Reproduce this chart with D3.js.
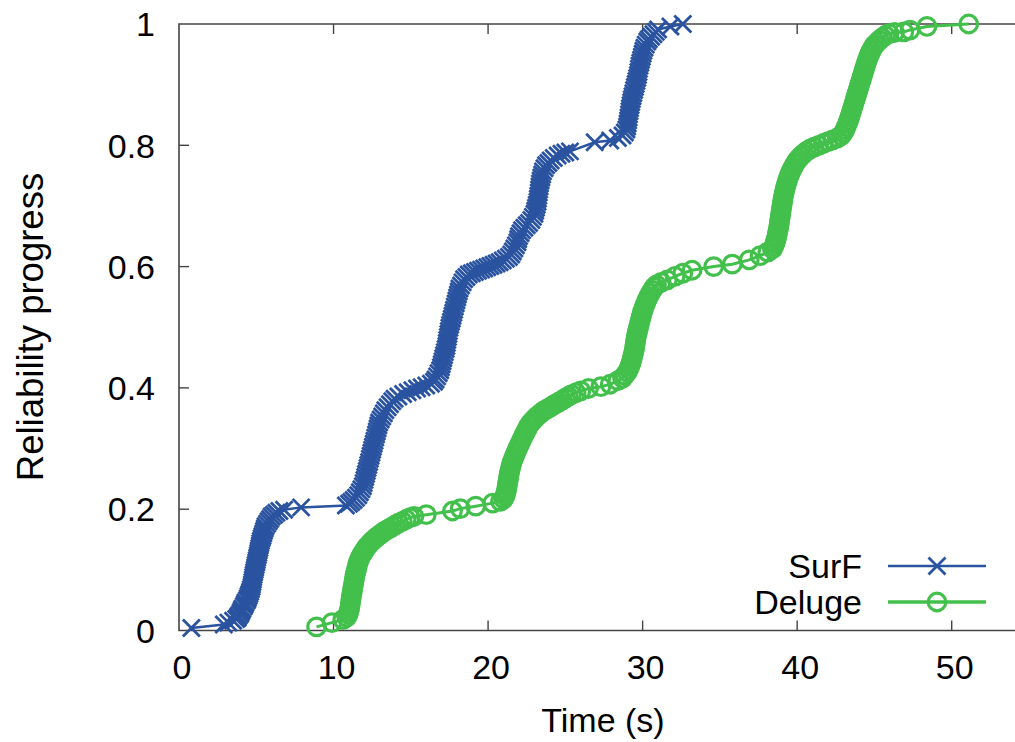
<!DOCTYPE html>
<html>
<head>
<meta charset="utf-8">
<script src="https://cdn.jsdelivr.net/npm/d3@7"></script>
<style>
  html, body { margin: 0; padding: 0; background: #fff; }
  svg { display: block; }
  text { font-family: "Liberation Sans", Arial, Helvetica, sans-serif; fill: #000; }
</style>
</head>
<body>
<svg id="chart" width="1015" height="742"></svg>
<script>
// Axis ticks
const xTicks = [0, 10, 20, 30, 40, 50];
const yTicks = [0, 0.2, 0.4, 0.6, 0.8, 1];
const yTickLabels = ["0", "0.2", "0.4", "0.6", "0.8", "1"];

// Series names
const seriesNames = ["SurF", "Deluge"];

// SurF: [time (s), reliability progress]
const surfPoints = [
  [0.8, 0.004], [2.9, 0.010], [3.2, 0.013], [3.5, 0.016], [3.7, 0.019],
  [3.8, 0.021], [3.85, 0.024], [3.95, 0.027], [4.0, 0.030], [4.05, 0.033], [4.1, 0.036],
  [4.2, 0.040], [4.25, 0.043], [4.3, 0.046], [4.4, 0.050], [4.45, 0.053], [4.5, 0.057],
  [4.55, 0.060], [4.6, 0.064], [4.65, 0.068], [4.7, 0.072], [4.72, 0.076], [4.75, 0.080],
  [4.78, 0.084], [4.8, 0.088], [4.83, 0.092], [4.86, 0.096], [4.9, 0.100], [4.93, 0.104],
  [4.96, 0.108], [5.0, 0.112], [5.03, 0.116], [5.06, 0.120], [5.1, 0.124], [5.13, 0.128],
  [5.16, 0.132], [5.2, 0.136], [5.23, 0.140], [5.26, 0.144], [5.3, 0.148], [5.35, 0.152],
  [5.4, 0.156], [5.45, 0.160], [5.5, 0.164], [5.55, 0.168], [5.6, 0.172], [5.7, 0.176],
  [5.8, 0.180], [5.9, 0.184], [6.0, 0.188], [6.15, 0.191], [6.3, 0.194], [6.5, 0.197],
  [6.8, 0.199], [7.9, 0.203], [10.8, 0.206],
  [11.0, 0.209], [11.15, 0.212], [11.3, 0.215], [11.45, 0.219], [11.6, 0.223], [11.7, 0.228],
  [11.8, 0.233], [11.9, 0.238], [11.95, 0.243], [12.0, 0.248], [12.05, 0.253], [12.1, 0.258],
  [12.15, 0.263], [12.2, 0.268], [12.25, 0.273], [12.3, 0.278], [12.35, 0.283], [12.4, 0.288],
  [12.45, 0.293], [12.5, 0.298], [12.55, 0.303], [12.6, 0.308], [12.65, 0.313], [12.7, 0.318],
  [12.75, 0.323], [12.8, 0.328], [12.85, 0.333], [12.9, 0.338], [12.95, 0.343], [13.05, 0.348],
  [13.15, 0.353], [13.25, 0.358], [13.35, 0.363], [13.5, 0.368], [13.65, 0.373], [13.8, 0.378],
  [13.95, 0.382],
  [14.2, 0.386], [14.5, 0.390], [14.8, 0.393], [15.1, 0.396], [15.4, 0.399], [15.7, 0.401],
  [16.0, 0.404], [16.3, 0.407], [16.5, 0.410],
  [16.6, 0.414], [16.7, 0.419], [16.8, 0.424], [16.9, 0.429], [16.95, 0.434], [17.0, 0.439],
  [17.05, 0.444], [17.1, 0.449], [17.15, 0.454], [17.2, 0.459], [17.25, 0.464], [17.3, 0.469],
  [17.33, 0.474], [17.36, 0.479], [17.4, 0.484], [17.43, 0.489], [17.46, 0.494], [17.5, 0.499],
  [17.55, 0.504], [17.6, 0.509], [17.65, 0.514], [17.7, 0.519], [17.75, 0.524], [17.8, 0.529],
  [17.85, 0.534], [17.9, 0.539], [17.95, 0.544], [18.0, 0.549], [18.05, 0.554], [18.1, 0.559],
  [18.15, 0.564], [18.25, 0.569], [18.35, 0.574], [18.45, 0.579], [18.6, 0.583], [18.75, 0.587],
  [18.95, 0.589], [19.15, 0.591], [19.35, 0.593], [19.55, 0.595], [19.75, 0.597], [19.95, 0.599],
  [20.15, 0.601], [20.35, 0.603], [20.55, 0.605], [20.75, 0.607], [20.95, 0.610], [21.15, 0.613],
  [21.35, 0.616],
  [21.5, 0.620], [21.6, 0.625], [21.7, 0.630], [21.8, 0.635], [21.9, 0.640], [21.95, 0.645],
  [22.0, 0.650], [22.1, 0.655], [22.2, 0.660], [22.35, 0.664], [22.5, 0.668], [22.65, 0.672],
  [22.8, 0.677], [22.9, 0.682], [23.0, 0.687], [23.05, 0.692], [23.1, 0.697], [23.15, 0.702],
  [23.2, 0.707], [23.22, 0.712], [23.25, 0.717], [23.28, 0.722], [23.3, 0.727], [23.33, 0.732],
  [23.36, 0.737], [23.4, 0.742], [23.45, 0.747], [23.5, 0.752], [23.55, 0.757], [23.65, 0.762],
  [23.75, 0.767], [23.9, 0.771], [24.05, 0.775], [24.25, 0.779], [24.5, 0.783], [24.75, 0.786],
  [25.0, 0.788], [25.3, 0.790],
  [26.9, 0.805], [27.9, 0.808], [28.4, 0.812], [28.7, 0.816],
  [28.85, 0.821], [28.95, 0.826], [29.0, 0.831], [29.03, 0.836], [29.06, 0.841], [29.09, 0.846],
  [29.12, 0.851], [29.15, 0.856], [29.18, 0.861], [29.22, 0.866], [29.26, 0.871], [29.3, 0.876],
  [29.35, 0.881], [29.4, 0.886], [29.45, 0.891], [29.5, 0.896], [29.55, 0.901], [29.6, 0.906],
  [29.65, 0.911], [29.7, 0.916], [29.73, 0.921], [29.76, 0.926], [29.8, 0.931], [29.85, 0.936],
  [29.9, 0.941], [29.95, 0.946], [30.0, 0.951], [30.05, 0.956], [30.12, 0.961], [30.2, 0.966],
  [30.3, 0.971], [30.4, 0.975], [30.55, 0.979], [30.7, 0.983], [30.85, 0.987], [31.0, 0.991],
  [31.8, 0.996], [32.6, 1.0]
];

// Deluge: [time (s), reliability progress]
const delugePoints = [
  [8.9, 0.006], [9.9, 0.013], [10.6, 0.018], [10.85, 0.022],
  [10.95, 0.027], [11.0, 0.032], [11.05, 0.037], [11.08, 0.042], [11.1, 0.047], [11.13, 0.052],
  [11.16, 0.057], [11.2, 0.062], [11.23, 0.067], [11.26, 0.072], [11.3, 0.077], [11.33, 0.082],
  [11.36, 0.087], [11.4, 0.092], [11.45, 0.097], [11.5, 0.102], [11.55, 0.107], [11.6, 0.112],
  [11.68, 0.117],
  [11.76, 0.122], [11.85, 0.126], [11.95, 0.130], [12.05, 0.134], [12.15, 0.138], [12.3, 0.142],
  [12.45, 0.146], [12.6, 0.150], [12.75, 0.153], [12.9, 0.156], [13.05, 0.159], [13.2, 0.162],
  [13.4, 0.165], [13.6, 0.168], [13.8, 0.171], [14.0, 0.174], [14.2, 0.177], [14.45, 0.180],
  [14.7, 0.183], [14.95, 0.186], [15.2, 0.188], [16.0, 0.191], [17.7, 0.197], [18.2, 0.201],
  [19.2, 0.205], [20.3, 0.210], [20.8, 0.213],
  [21.0, 0.217], [21.1, 0.222], [21.15, 0.227], [21.2, 0.232], [21.23, 0.237], [21.26, 0.242],
  [21.3, 0.247], [21.33, 0.252], [21.36, 0.257], [21.4, 0.262], [21.45, 0.267], [21.5, 0.272],
  [21.55, 0.277], [21.62, 0.282], [21.7, 0.287], [21.78, 0.292], [21.86, 0.297], [21.95, 0.302],
  [22.04, 0.307], [22.13, 0.312], [22.22, 0.317], [22.32, 0.322], [22.42, 0.327], [22.52, 0.332],
  [22.62, 0.337], [22.75, 0.342],
  [22.9, 0.346], [23.05, 0.350], [23.2, 0.354], [23.4, 0.358], [23.6, 0.362], [23.8, 0.365],
  [24.0, 0.368], [24.2, 0.371], [24.4, 0.374], [24.6, 0.377], [24.8, 0.380], [25.0, 0.383],
  [25.2, 0.386], [25.4, 0.389], [25.7, 0.392], [26.0, 0.395], [26.5, 0.399], [27.3, 0.402],
  [27.9, 0.406], [28.4, 0.412],
  [28.7, 0.416], [28.85, 0.421], [29.0, 0.426], [29.1, 0.431], [29.18, 0.436], [29.25, 0.441],
  [29.3, 0.446], [29.35, 0.451], [29.4, 0.456], [29.45, 0.461], [29.48, 0.466], [29.51, 0.471],
  [29.54, 0.476], [29.57, 0.481], [29.6, 0.486], [29.65, 0.491], [29.7, 0.496], [29.75, 0.501],
  [29.8, 0.506], [29.85, 0.511], [29.9, 0.516], [29.95, 0.521], [30.0, 0.526], [30.07, 0.531],
  [30.14, 0.536], [30.22, 0.541], [30.3, 0.546], [30.4, 0.551], [30.5, 0.556], [30.62, 0.561],
  [30.75, 0.566], [30.9, 0.570],
  [31.2, 0.574], [31.6, 0.578], [32.1, 0.584], [32.6, 0.589], [33.2, 0.594], [34.6, 0.600],
  [35.8, 0.604], [36.9, 0.611], [37.6, 0.618], [38.1, 0.624],
  [38.4, 0.629], [38.5, 0.634], [38.57, 0.639], [38.63, 0.644], [38.68, 0.649], [38.72, 0.654],
  [38.76, 0.659], [38.8, 0.664], [38.83, 0.669], [38.86, 0.674], [38.89, 0.679], [38.92, 0.684],
  [38.95, 0.689], [38.98, 0.694], [39.01, 0.699], [39.04, 0.704], [39.07, 0.709], [39.1, 0.714],
  [39.14, 0.719], [39.18, 0.724], [39.23, 0.729], [39.28, 0.734], [39.34, 0.739], [39.4, 0.744],
  [39.47, 0.749], [39.55, 0.754], [39.64, 0.759], [39.74, 0.764], [39.85, 0.769], [39.97, 0.774],
  [40.1, 0.778], [40.25, 0.782], [40.4, 0.786], [40.6, 0.790],
  [40.85, 0.794], [41.1, 0.797], [41.4, 0.800], [41.7, 0.803], [42.0, 0.806], [42.3, 0.809],
  [42.6, 0.812], [42.85, 0.816],
  [43.0, 0.821], [43.1, 0.826], [43.18, 0.831], [43.26, 0.836], [43.33, 0.841], [43.4, 0.846],
  [43.46, 0.851], [43.52, 0.856], [43.58, 0.861], [43.64, 0.866], [43.7, 0.871], [43.76, 0.876],
  [43.82, 0.881], [43.88, 0.886], [43.94, 0.891], [44.0, 0.896], [44.06, 0.901], [44.12, 0.906],
  [44.18, 0.911], [44.24, 0.916], [44.3, 0.921], [44.36, 0.926], [44.42, 0.931], [44.48, 0.936],
  [44.55, 0.941], [44.62, 0.946], [44.7, 0.951], [44.8, 0.956], [44.9, 0.961], [45.0, 0.965],
  [45.15, 0.969], [45.3, 0.973], [45.5, 0.977], [45.7, 0.981], [45.95, 0.984], [46.3, 0.986],
  [46.9, 0.987], [47.3, 0.990], [48.4, 0.996], [51.1, 1.0]
];

const BLUE = "#2a53a0";
const GREEN = "#43c04c";
const AXIS = "#444";
const FONT = 34;

const svg = d3.select("#chart");

// Plot frame: the right edge runs past the canvas
const plotLeft = 179, plotTop = 24, plotBottom = 630.5;
const pxPerSec = 15.454;
const x = d3.scaleLinear().domain([0, 55]).range([plotLeft, plotLeft + 55 * pxPerSec]);
const y = d3.scaleLinear().domain([0, 1]).range([plotBottom, plotTop]);

const frame = svg.append("g");
frame.append("path")
  .attr("d", `M${x(55)},${plotTop}H${plotLeft}V${plotBottom}H${x(55)}`)
  .attr("fill", "none").attr("stroke", AXIS).attr("stroke-width", 1.6);

// Inward ticks, bottom and mirrored on top
const tickLen = 10;
xTicks.forEach(t => {
  if (t === 0) return;
  frame.append("line").attr("x1", x(t)).attr("x2", x(t)).attr("y1", plotBottom).attr("y2", plotBottom - tickLen)
    .attr("stroke", AXIS).attr("stroke-width", 1.4);
  frame.append("line").attr("x1", x(t)).attr("x2", x(t)).attr("y1", plotTop).attr("y2", plotTop + tickLen)
    .attr("stroke", AXIS).attr("stroke-width", 1.4);
});
yTicks.forEach(v => {
  if (v === 0 || v === 1) return;
  frame.append("line").attr("x1", plotLeft).attr("x2", plotLeft + tickLen).attr("y1", y(v)).attr("y2", y(v))
    .attr("stroke", AXIS).attr("stroke-width", 1.4);
});

// Tick labels
svg.append("g").selectAll("text").data(xTicks).join("text")
  .attr("x", d => x(d) + 3).attr("y", 679)
  .attr("text-anchor", "middle").attr("font-size", FONT)
  .text(d => d);

svg.append("g").selectAll("text").data(yTicks).join("text")
  .attr("x", 155).attr("y", d => y(d)).attr("dy", "0.36em")
  .attr("text-anchor", "end").attr("font-size", FONT)
  .text((d, i) => yTickLabels[i]);

// Axis titles
svg.append("text")
  .attr("x", 603).attr("y", 732)
  .attr("text-anchor", "middle").attr("font-size", FONT)
  .text("Time (s)");

svg.append("text")
  .attr("transform", "translate(43,327) rotate(-90)")
  .attr("text-anchor", "middle").attr("font-size", 36.5)
  .text("Reliability progress");

// Markers
const crossPath = "M-8.5,-8.5L8.5,8.5M-8.5,8.5L8.5,-8.5";
const circleR = 8.8;

const line = d3.line().x(d => x(d[0])).y(d => y(d[1]));

// SurF series
const gSurf = svg.append("g");
gSurf.append("path").attr("d", line(surfPoints))
  .attr("fill", "none").attr("stroke", BLUE).attr("stroke-width", 2.5);
gSurf.selectAll("path.pt").data(surfPoints).join("path")
  .attr("class", "pt")
  .attr("transform", d => `translate(${x(d[0])},${y(d[1])})`)
  .attr("d", crossPath)
  .attr("fill", "none").attr("stroke", BLUE).attr("stroke-width", 2.8);

// Deluge series
const gDel = svg.append("g");
gDel.append("path").attr("d", line(delugePoints))
  .attr("fill", "none").attr("stroke", GREEN).attr("stroke-width", 3);
gDel.selectAll("circle").data(delugePoints).join("circle")
  .attr("cx", d => x(d[0])).attr("cy", d => y(d[1])).attr("r", circleR)
  .attr("fill", "none").attr("stroke", GREEN).attr("stroke-width", 3.2);

// Legend
const legend = svg.append("g");
const legendRows = [
  { name: seriesNames[0], color: BLUE, y: 566, width: 2.5, marker: "cross" },
  { name: seriesNames[1], color: GREEN, y: 602, width: 3.5, marker: "circle" }
];
legendRows.forEach(r => {
  legend.append("text").attr("x", 862).attr("y", r.y).attr("dy", "0.36em")
    .attr("text-anchor", "end").attr("font-size", FONT).text(r.name);
  legend.append("line").attr("x1", 888).attr("x2", 986).attr("y1", r.y).attr("y2", r.y)
    .attr("stroke", r.color).attr("stroke-width", r.width);
  if (r.marker === "cross") {
    legend.append("path").attr("transform", `translate(937,${r.y})`).attr("d", crossPath)
      .attr("fill", "none").attr("stroke", r.color).attr("stroke-width", 2.8);
  } else {
    legend.append("circle").attr("cx", 937).attr("cy", r.y).attr("r", circleR)
      .attr("fill", "none").attr("stroke", r.color).attr("stroke-width", 3.2);
  }
});
</script>
</body>
</html>
